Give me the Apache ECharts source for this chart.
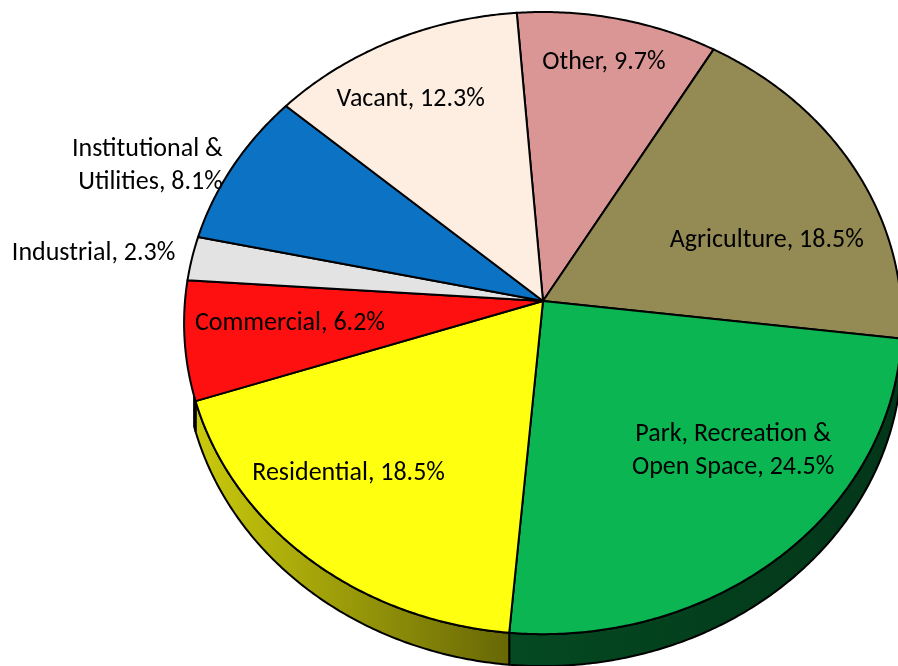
<!DOCTYPE html>
<html>
<head>
<meta charset="utf-8">
<script src="https://cdn.jsdelivr.net/npm/echarts@6/dist/echarts.min.js"></script>
<style>
  html, body { margin: 0; padding: 0; background: #fff; }
  #main { width: 898px; height: 666px; }
</style>
</head>
<body>
<div id="main"></div>
<script>
// land use shares, clockwise from the top
var categories = ['Other', 'Agriculture', 'Park, Recreation &\nOpen Space', 'Residential',
  'Commercial', 'Industrial', 'Institutional &\nUtilities', 'Vacant'];
var shares = [9.7, 18.5, 24.5, 18.5, 6.2, 2.3, 8.1, 12.3];
var colors = ['#d99694', '#948a54', '#0bb552', '#ffff10', '#fe1010', '#e3e3e3', '#0b72c4', '#fdeee1'];

// label placement: [radius fraction, angle nudge in degrees], and alignment
var labelSpots = [[0.835, -0.5], [0.664, 9], [0.696, -8.5], [0.748, 6], [0.707, 1.5], [1.05, 0.5], [1.027, -0.7], [0.784, -3]];
var labelAlign = ['center', 'center', 'center', 'center', 'center', 'right', 'right', 'center'];

// tilted disc projection
var CX = 543, CY = 301, RX = 358, RY = 309.5, K = 0.071, DROP = 29.7, START = -4.5;
// part of the rim whose wall faces the viewer
var WALL_FROM = 95, WALL_TO = 252.5;
var FONT = 'Carlito, Lato, sans-serif';

var total = shares.reduce(function (a, b) { return a + b }, 0);
var startAngles = [], endAngles = [];
(function () {
  var cum = 0;
  for (var i = 0; i < shares.length; i++) {
    startAngles.push(START + cum / total * 360);
    cum += shares[i];
    endAngles.push(START + cum / total * 360);
  }
})();

function proj(r, deg, drop) {
  var a = deg * Math.PI / 180;
  var u = r * Math.sin(a), v = r * Math.cos(a);
  var d = 1 + K * v;
  return [CX + RX * u / d, CY - RY * v / d + (drop || 0) / d];
}

function arc(a0, a1, drop) {
  var pts = [];
  var n = Math.max(2, Math.ceil((a1 - a0) / 0.5));
  for (var j = 0; j <= n; j++) pts.push(proj(1, a0 + (a1 - a0) * j / n, drop));
  return pts;
}

function shade(hex, f) {
  var n = parseInt(hex.slice(1), 16);
  var r = Math.round(((n >> 16) & 255) * f), g = Math.round(((n >> 8) & 255) * f), b = Math.round((n & 255) * f);
  return 'rgb(' + r + ',' + g + ',' + b + ')';
}

// darker toward the right, like the lit side wall
function sideFactor(x) {
  if (x < 513) return 0.8 - 0.4 * Math.max(0, (x - 190)) / 323;
  return 0.4 - 0.1 * Math.min(1, (x - 513) / 387);
}

var myChart = echarts.init(document.getElementById('main'));

var seriesData = shares.map(function (v, i) { return { value: v, name: categories[i] } });

var option = {
  backgroundColor: '#fff',
  animation: false,
  series: [
    {
      // side wall
      type: 'custom',
      coordinateSystem: 'none',
      z: 1,
      silent: true,
      data: seriesData,
      renderItem: function (params, api) {
        var i = params.dataIndex;
        var a0 = Math.max(startAngles[i], WALL_FROM), a1 = Math.min(endAngles[i], WALL_TO);
        if (a1 <= a0) return { type: 'group', children: [] };
        var top = arc(a0, a1, 0);
        var bottom = arc(a0, a1, DROP).reverse();
        var xs = top.concat(bottom).map(function (p) { return p[0] });
        var minX = Math.min.apply(null, xs), maxX = Math.max.apply(null, xs);
        return {
          type: 'polygon',
          shape: { points: top.concat(bottom) },
          style: {
            fill: {
              type: 'linear', x: 0, y: 0, x2: 1, y2: 0,
              colorStops: [
                { offset: 0, color: shade(colors[i], sideFactor(minX)) },
                { offset: 1, color: shade(colors[i], sideFactor(maxX)) }
              ]
            },
            stroke: '#000',
            lineWidth: 2,
            lineJoin: 'round'
          }
        };
      }
    },
    {
      // top faces and labels
      type: 'custom',
      coordinateSystem: 'none',
      z: 2,
      silent: true,
      data: seriesData,
      renderItem: function (params, api) {
        var i = params.dataIndex;
        var pts = [[CX, CY]].concat(arc(startAngles[i], endAngles[i], 0));
        var mid = (startAngles[i] + endAngles[i]) / 2 + labelSpots[i][1];
        var lp = proj(labelSpots[i][0], mid, 0);
        return {
          type: 'group',
          children: [
            {
              type: 'polygon',
              shape: { points: pts },
              style: { fill: colors[i], stroke: '#000', lineWidth: 2, lineJoin: 'round' }
            },
            {
              type: 'text',
              z2: 10,
              style: {
                text: categories[i] + ', ' + shares[i].toFixed(1) + '%',
                x: lp[0],
                y: lp[1],
                align: labelAlign[i],
                verticalAlign: 'middle',
                fontFamily: FONT,
                fontSize: 26,
                lineHeight: 33,
                fill: '#000'
              }
            }
          ]
        };
      }
    }
  ]
};
myChart.setOption(option);

window.addEventListener('resize', function () {
  myChart.resize();
});
</script>
</body>
</html>
